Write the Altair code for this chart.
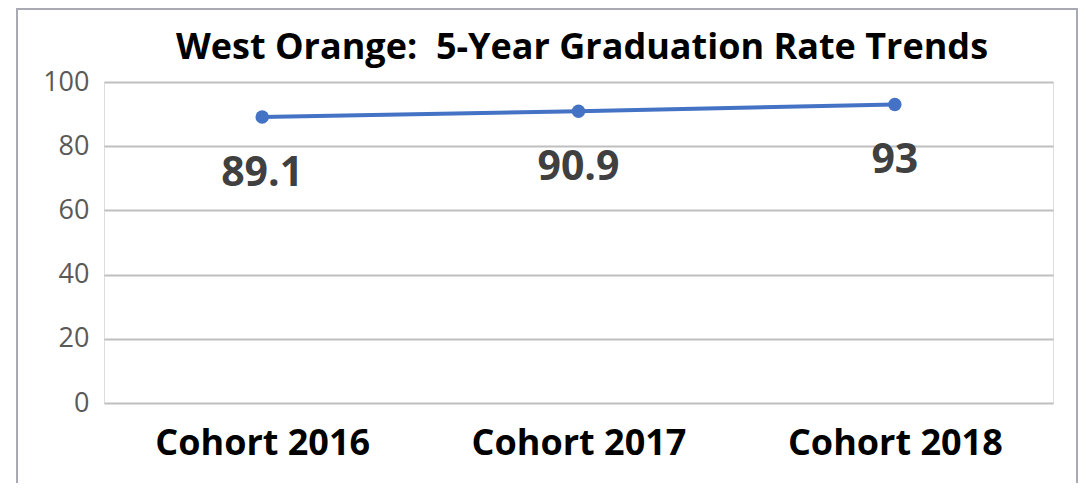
import altair as alt
import pandas as pd

categories = ["Cohort 2016", "Cohort 2017", "Cohort 2018"]
rates = [89.1, 90.9, 93]
labels = ["89.1", "90.9", "93"]
y_ticks = [0, 20, 40, 60, 80, 100]
title_text = "West Orange:\u00a0 5-Year Graduation Rate Trends"

df = pd.DataFrame({"cohort": categories, "rate": rates, "label": labels})
title_df = pd.DataFrame({"t": [title_text]})

FONT = "Open Sans"
W, H = 949, 321

x_enc = alt.X(
    "cohort:N",
    sort=categories,
    scale=alt.Scale(type="point", padding=0.5),
    axis=alt.Axis(
        title=None, labelAngle=0, labelFont=FONT, labelFontSize=36,
        labelFontWeight="bold", labelColor="#000000", labelPadding=23,
        labelLimit=500, domain=False, ticks=False, grid=False,
    ),
)
y_enc = alt.Y(
    "rate:Q",
    scale=alt.Scale(domain=[0, 100], nice=False),
    axis=alt.Axis(
        title=None, values=y_ticks, labelFont=FONT, labelFontSize=27,
        labelColor="#595959", labelPadding=15, domain=False, ticks=False,
        grid=True, gridColor="#bfbfbf", gridWidth=2,
    ),
)

line = alt.Chart(df).mark_line(color="#4472C4", strokeWidth=4).encode(x=x_enc, y=y_enc)
points = alt.Chart(df).mark_circle(color="#4472C4", size=180, opacity=1).encode(x=x_enc, y=y_enc)
text = alt.Chart(df).mark_text(
    font=FONT, fontSize=41, fontWeight="bold", color="#404040",
    baseline="alphabetic", dy=69,
).encode(x=x_enc, y=y_enc, text="label:N")

title = alt.Chart(title_df).mark_text(
    font=FONT, fontSize=36, fontWeight="bold", color="#000000",
    baseline="alphabetic", align="center",
).encode(x=alt.value(478), y=alt.value(-23), text="t:N")

border = alt.Chart(df).mark_rect(
    fill=None, stroke="#a9a9b3", strokeWidth=2
).encode(
    x=alt.value(-87), x2=alt.value(973), y=alt.value(-73), y2=alt.value(440)
)

chart = alt.layer(border, line, points, text, title).properties(
    width=W, height=H,
    padding={"left": 96, "top": 74, "right": 25, "bottom": 80},
    autosize=alt.AutoSizeParams(type="none"),
).configure_view(stroke=None).configure(background="white")

chart.save("out.html", embed_options={"renderer": "svg", "actions": False})
